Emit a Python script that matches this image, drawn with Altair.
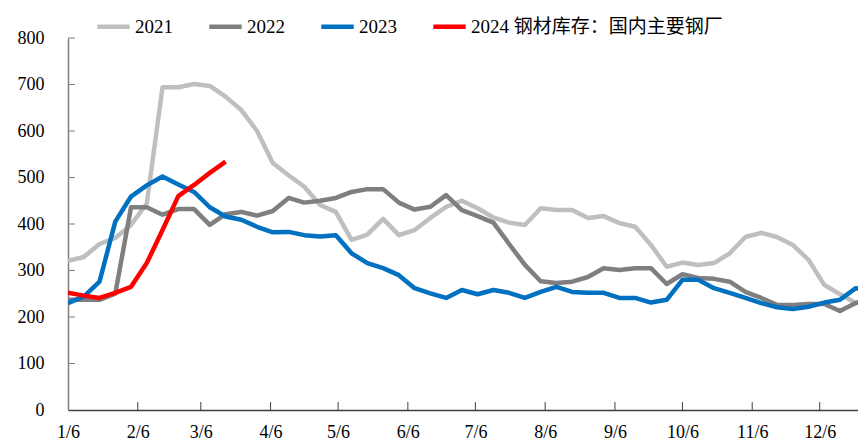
import altair as alt
import pandas as pd
import datetime as dt

# Weekly series (starting 1/6), steel inventory at major mills (10k t)
series_names = ["2021", "2022", "2023", "2024 钢材库存：国内主要钢厂"]

s2021 = [321, 329, 357, 370, 398, 444, 694, 694, 701, 697, 674, 645, 600, 531,
         505, 480, 441, 426, 366, 377, 411, 376, 387, 413, 437, 450, 434, 414,
         403, 398, 434, 430, 430, 413, 417, 402, 394, 355, 308, 317, 312, 316,
         337, 372, 381, 372, 355, 323, 269, 249, 230, 233]
s2022 = [237, 237, 237, 250, 436, 436, 420, 432, 432, 398, 421, 426, 418, 428,
         456, 446, 450, 456, 469, 475, 475, 446, 431, 437, 462, 430, 417, 403,
         357, 312, 277, 273, 276, 286, 305, 301, 305, 305, 271, 292, 284, 282,
         276, 254, 241, 226, 226, 228, 228, 213, 230, 241]
s2023 = [230, 244, 276, 405, 459, 483, 502, 485, 469, 436, 416, 409, 394, 382,
         383, 376, 373, 376, 337, 316, 305, 290, 262, 251, 241, 258, 249, 258,
         252, 241, 254, 265, 254, 252, 252, 241, 241, 231, 237, 280, 280, 262,
         252, 241, 230, 221, 217, 222, 231, 237, 262, 258]
s2024 = [252, 246, 241, 252, 265, 316, 387, 460, 484, 510, 534]

tick_labels = ["1/6", "2/6", "3/6", "4/6", "5/6", "6/6", "7/6", "8/6", "9/6",
               "10/6", "11/6", "12/6"]
y_ticks = [100, 200, 300, 400, 500, 600, 700, 800]

colors = ["#BFBFBF", "#7F7F7F", "#0070C0", "#FF0000"]
widths = [4.5, 4.5, 4.5, 3]

start = dt.date(2023, 1, 6)
rows = []
for name, vals in zip(series_names, [s2021, s2022, s2023, s2024]):
    for k, v in enumerate(vals):
        d = start + dt.timedelta(days=7 * k)
        rows.append({"date": d.isoformat() + "T00:00:00", "series": name, "value": v})
df = pd.DataFrame(rows)

tick_dates = []
for lab in tick_labels:
    m, d = lab.split("/")
    tick_dates.append(dt.date(2023, int(m), int(d)).isoformat() + "T00:00:00")

x_values = [alt.DateTime(year=2023, month=int(l.split("/")[0]), date=int(l.split("/")[1])) for l in tick_labels]
x_scale = alt.Scale(domain=[alt.DateTime(year=2023, month=1, date=6),
                            alt.DateTime(year=2023, month=12, date=23)])

lines = alt.Chart(df).mark_line(clip=True, strokeJoin="round").encode(
    x=alt.X("date:T", scale=x_scale,
            axis=alt.Axis(values=x_values, format="%-m/%-d", title=None,
                          labelPadding=13, domainColor="#404040", labelFlush=False)),
    y=alt.Y("value:Q", scale=alt.Scale(domain=[0, 800]),
            axis=alt.Axis(values=[0] + y_ticks, title=None, labelPadding=24,
                          domainColor="#7F7F7F")),
    color=alt.Color("series:N", scale=alt.Scale(domain=series_names, range=colors),
                    sort=series_names,
                    legend=alt.Legend(title=None, orient="none", direction="horizontal",
                                      legendX=27, legendY=-30, symbolType="stroke",
                                      symbolStrokeWidth=4, symbolSize=1050,
                                      labelFont="Liberation Serif, Noto Sans CJK SC",
                                      labelFontSize=19, labelColor="black",
                                      columnPadding=27, labelOffset=3,
                                      labelLimit=400)),
    strokeWidth=alt.StrokeWidth("series:N", scale=alt.Scale(domain=series_names, range=widths),
                                legend=None),
    order=alt.Order("date:T"),
)

ytick_df = pd.DataFrame({"v": y_ticks})
yticks = alt.Chart(ytick_df).mark_rule(color="#7F7F7F", strokeWidth=1).encode(
    y="v:Q", x=alt.value(0), x2=alt.value(7))

xtick_df = pd.DataFrame({"date": tick_dates[1:]})
xticks = alt.Chart(xtick_df).mark_rule(color="#404040", strokeWidth=1).encode(
    x="date:T", y=alt.value(372), y2=alt.value(364))

chart = alt.layer(lines, yticks, xticks).properties(
    width=790, height=372,
    padding={"left": 60, "top": 30, "right": 0, "bottom": 36},
    autosize="none",
).configure_view(stroke=None).configure_axis(
    labelFont="Liberation Serif", labelFontSize=18, labelColor="black",
    grid=False, ticks=False, tickSize=0, domainWidth=1.5,
)

chart.save("out.html", embed_options={"renderer": "svg", "actions": False})
